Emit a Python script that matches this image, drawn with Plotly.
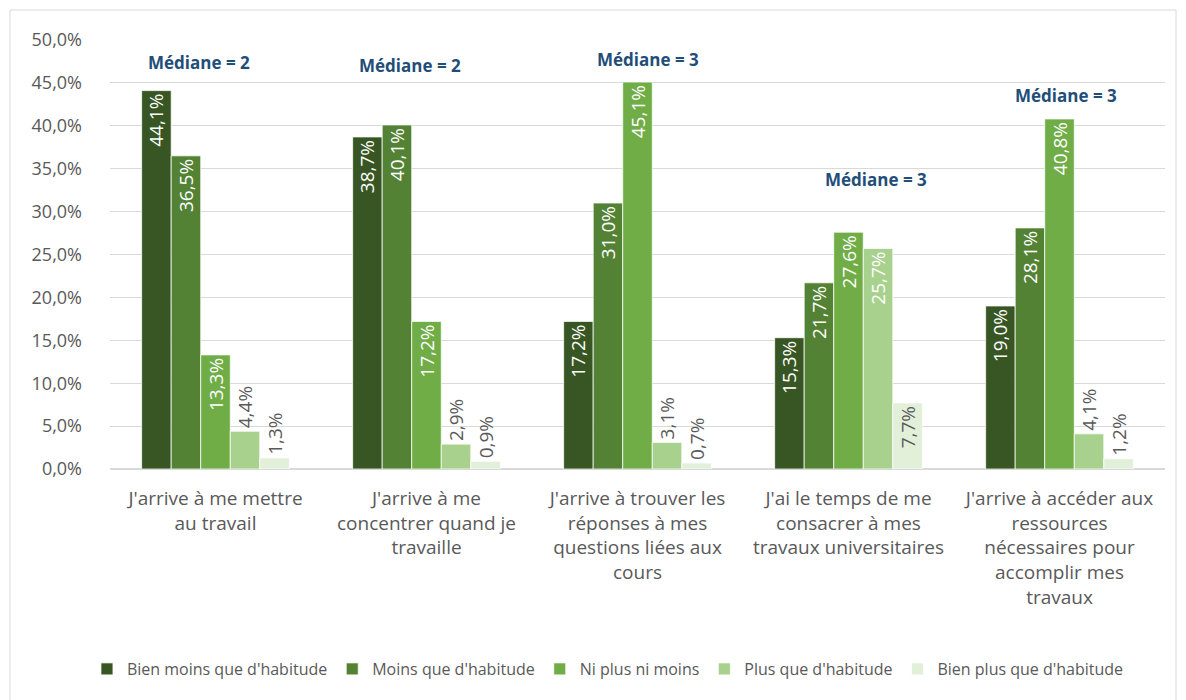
import plotly.graph_objects as go

categories = [
    "J'arrive à me mettre<br>au travail",
    "J'arrive à me<br>concentrer quand je<br>travaille",
    "J'arrive à trouver les<br>réponses à mes<br>questions liées aux<br>cours",
    "J'ai le temps de me<br>consacrer à mes<br>travaux universitaires",
    "J'arrive à accéder aux<br>ressources<br>nécessaires pour<br>accomplir mes<br>travaux",
]
series_names = ["Bien moins que d'habitude", "Moins que d'habitude", "Ni plus ni moins",
                "Plus que d'habitude", "Bien plus que d'habitude"]
bien_moins = [44.1, 38.7, 17.2, 15.3, 19.0]
moins = [36.5, 40.1, 31.0, 21.7, 28.1]
ni_plus_ni_moins = [13.3, 17.2, 45.1, 27.6, 40.8]
plus = [4.4, 2.9, 3.1, 25.7, 4.1]
bien_plus = [1.3, 0.9, 0.7, 7.7, 1.2]
medians = [2, 2, 3, 3, 3]

series = [bien_moins, moins, ni_plus_ni_moins, plus, bien_plus]
colors = ["#375623", "#548235", "#70AD47", "#A9D18E", "#E2F0D9"]
gray = "#595959"
font = "Open Sans"

fig = go.Figure()
for i, (name, vals) in enumerate(zip(series_names, series)):
    pos = ["inside" if v >= 5 else "outside" for v in vals]
    # light bar keeps gray text even inside
    tcol = ["white" if (p == "inside" and i < 4) else gray for p in pos]
    fig.add_trace(go.Bar(
        x=categories, y=vals, name=name,
        marker=dict(color=colors[i], line=dict(color="white", width=0.75)),
        texttemplate="%{y:.1f}%", textposition=pos, textangle=-90,
        insidetextanchor="end", constraintext="none",
        textfont=dict(family=font, size=19, color=tcol),
        cliponaxis=False,
    ))

# median labels: offset from group centre (category units) and height (%)
med_dx = [-0.08, -0.08, 0.05, 0.13, 0.03]
med_y = [47.4, 47.0, 47.7, 33.7, 43.5]
for k, m in enumerate(medians):
    fig.add_annotation(x=k + med_dx[k], y=med_y[k], xref="x", yref="y",
                       text=f"<b>Médiane = {m}</b>", showarrow=False,
                       font=dict(family=font, size=17, color="#1F4E79"))

# page has 8px body margin: plot area spans page x 110-1165, y 40-469
W, H = 1178, 692
ml, mr, mt, mb = 102, 21, 32, 231
pw, ph = W - ml - mr, H - mt - mb
# outer chart frame, bottom edge runs off the page
fig.add_shape(type="rect", xref="paper", yref="paper",
              x0=(2 - ml) / pw, x1=(W - 10 - ml) / pw,
              y0=(H - mb - (H + 10)) / ph, y1=(H - mb - 2) / ph,
              line=dict(color="#D9D9D9", width=1), fillcolor="rgba(0,0,0,0)")

fig.update_layout(
    width=W, height=H,
    margin=dict(l=ml, r=mr, t=mt, b=mb),
    plot_bgcolor="white", paper_bgcolor="white",
    separators=", ",
    barmode="group", bargap=0.3, bargroupgap=0,
    font=dict(family=font, color=gray),
    legend=dict(orientation="h", x=0.472, xanchor="center", y=(469 - 669) / 429, yanchor="middle",
                font=dict(size=16, color=gray), itemwidth=30, traceorder="normal"),
    showlegend=True,
)
fig.update_yaxes(range=[0, 50], dtick=5, tickformat=".1f", ticksuffix="%",
                 gridcolor="#D9D9D9", gridwidth=1, zeroline=True, zerolinecolor="#D9D9D9",
                 tickfont=dict(size=18, color=gray), ticklabelstandoff=27, automargin=False)
fig.update_xaxes(tickangle=0, tickfont=dict(size=19, color=gray), showline=False,
                 ticklabelstandoff=16, automargin=False)

fig.write_html("out.html")
